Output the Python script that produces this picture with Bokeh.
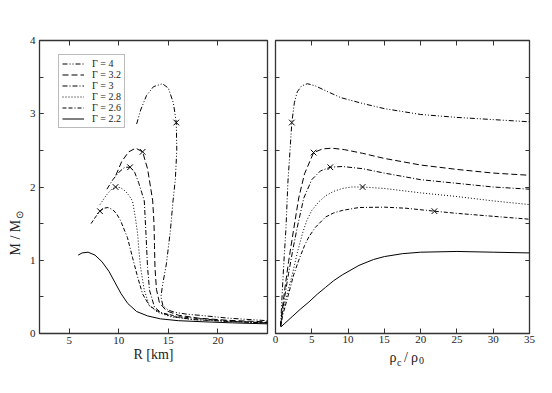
from math import pi
from bokeh.plotting import figure
from bokeh.models import (Range1d, LinearAxis, FixedTicker, SingleIntervalTicker,
                          Legend, LegendItem)
from bokeh.core.properties import value
from bokeh.layouts import row, column
from bokeh.embed import file_html
from bokeh.resources import INLINE

# ---------------- data ----------------
gamma_labels = ["Γ = 4", "Γ = 3.2", "Γ = 3", "Γ = 2.8", "Γ = 2.6", "Γ = 2.2"]

# Left panel: mass-radius curves  (R [km], M/Msun)
R_g4 = [11.8, 12.2, 12.8, 13.5, 14.4, 15.0, 15.5, 15.8, 15.85, 15.7, 15.47, 15.2, 14.8, 14.4, 14.25, 14.45, 15.0, 15.6, 16.8, 18.4, 21.0, 25.5]
M_g4 = [2.86, 3.05, 3.25, 3.37, 3.41, 3.35, 3.15, 2.88, 2.50, 2.10, 1.81, 1.40, 0.95, 0.65, 0.50, 0.38, 0.32, 0.29, 0.265, 0.245, 0.21, 0.17]
R_g32 = [9.7, 10.3, 11.0, 11.7, 12.4, 12.9, 13.2, 13.42, 13.55, 13.6, 13.65, 13.8, 14.1, 14.8, 16.0, 18.0, 21.0, 25.5]
M_g32 = [2.16, 2.35, 2.48, 2.53, 2.48, 2.25, 2.00, 1.81, 1.50, 1.20, 0.90, 0.60, 0.42, 0.31, 0.25, 0.21, 0.18, 0.155]
R_g3 = [8.8, 9.4, 10.0, 10.6, 11.14, 11.6, 12.0, 12.3, 12.57, 12.74, 12.9, 13.1, 13.6, 14.3, 15.5, 17.5, 21.0, 25.5]
M_g3 = [1.97, 2.10, 2.20, 2.27, 2.27, 2.20, 2.06, 1.93, 1.81, 1.36, 0.90, 0.59, 0.36, 0.28, 0.23, 0.19, 0.165, 0.145]
R_g28 = [8.1, 8.7, 9.2, 9.67, 10.2, 10.7, 11.1, 11.38, 11.65, 11.9, 12.05, 12.2, 12.57, 13.08, 13.9, 15.2, 17.5, 21.0, 25.5]
M_g28 = [1.76, 1.88, 1.96, 2.00, 1.99, 1.94, 1.87, 1.81, 1.60, 1.36, 1.10, 0.90, 0.59, 0.38, 0.29, 0.23, 0.19, 0.165, 0.14]
R_g26 = [7.2, 7.7, 8.1, 8.5, 8.9, 9.4, 9.8, 10.18, 10.87, 11.38, 11.9, 12.4, 13.08, 14.1, 16.0, 18.4, 21.5, 25.5]
M_g26 = [1.50, 1.60, 1.67, 1.71, 1.72, 1.69, 1.63, 1.54, 1.31, 1.04, 0.77, 0.54, 0.38, 0.29, 0.23, 0.20, 0.165, 0.14]
R_g22 = [5.9, 6.3, 6.9, 7.6, 8.3, 9.0, 9.6, 10.2, 10.9, 11.8, 12.9, 14.2, 16.0, 18.5, 21.5, 25.5]
M_g22 = [1.07, 1.10, 1.11, 1.07, 0.98, 0.85, 0.70, 0.55, 0.41, 0.30, 0.24, 0.20, 0.175, 0.16, 0.145, 0.13]

# Right panel: mass vs central density (rho_c/rho_0, M/Msun)
rho_g4 = [0.7, 0.8, 1.0, 1.2, 1.45, 1.7, 2.0, 2.25, 2.6, 3.0, 3.6, 4.4, 5.5, 7.0, 9.0, 12.0, 15.0, 20.0, 25.0, 30.0, 35.0]
Mr_g4 = [0.10, 0.30, 0.70, 1.05, 1.45, 2.05, 2.50, 2.88, 3.15, 3.30, 3.38, 3.41, 3.38, 3.31, 3.22, 3.14, 3.07, 2.99, 2.95, 2.92, 2.89]
rho_g32 = [0.7, 0.9, 1.3, 1.8, 2.5, 3.2, 4.0, 5.25, 6.5, 7.8, 9.5, 12.0, 15.0, 20.0, 25.0, 30.0, 35.0]
Mr_g32 = [0.10, 0.30, 0.62, 0.98, 1.42, 1.85, 2.18, 2.47, 2.52, 2.53, 2.51, 2.46, 2.39, 2.30, 2.24, 2.19, 2.16]
rho_g3 = [0.7, 0.9, 1.3, 1.8, 2.4, 3.0, 3.9, 5.0, 6.2, 7.55, 9.2, 12.0, 15.0, 20.0, 25.0, 30.0, 35.0]
Mr_g3 = [0.10, 0.26, 0.52, 0.82, 1.15, 1.45, 1.85, 2.10, 2.22, 2.27, 2.28, 2.25, 2.19, 2.10, 2.05, 2.00, 1.97]
rho_g28 = [0.7, 1.0, 1.5, 2.3, 3.0, 3.7, 4.3, 5.0, 6.0, 6.9, 8.0, 9.2, 10.5, 12.0, 15.0, 20.0, 25.0, 30.0, 35.0]
Mr_g28 = [0.10, 0.30, 0.50, 0.80, 1.10, 1.36, 1.54, 1.68, 1.80, 1.88, 1.94, 1.98, 2.00, 2.00, 1.98, 1.92, 1.87, 1.81, 1.76]
rho_g26 = [0.7, 1.0, 1.83, 2.5, 3.2, 4.0, 4.6, 5.5, 6.9, 8.0, 9.2, 11.5, 15.0, 18.0, 21.9, 25.0, 30.0, 35.0]
Mr_g26 = [0.10, 0.25, 0.55, 0.80, 1.00, 1.20, 1.32, 1.45, 1.59, 1.645, 1.68, 1.72, 1.725, 1.71, 1.67, 1.64, 1.60, 1.56]
rho_g22 = [0.75, 1.3, 2.3, 3.4, 4.6, 5.8, 6.9, 8.0, 9.2, 11.5, 13.5, 15.0, 17.5, 20.0, 25.0, 30.0, 35.0]
Mr_g22 = [0.09, 0.14, 0.23, 0.33, 0.43, 0.54, 0.63, 0.72, 0.80, 0.93, 1.01, 1.05, 1.09, 1.11, 1.12, 1.11, 1.10]

# maximum-mass markers (x)
mark_R = [15.8, 12.4, 11.14, 9.67, 8.1]
mark_M = [2.88, 2.48, 2.27, 2.00, 1.67]
mark_rho = [2.25, 5.25, 7.55, 12.0, 21.9]
mark_Mr = [2.88, 2.47, 2.27, 2.00, 1.67]

left_x_ticks = [5, 10, 15, 20]

# ---------------- styling ----------------
FONT = "Liberation Serif"
TXT = "#222222"
dash_styles = ["5 2 1 2 1 2", "6 3", "5 2 1 2", "1 2", "4 2 4 2 1 2", "solid"]
left_series = [(R_g4, M_g4), (R_g32, M_g32), (R_g3, M_g3), (R_g28, M_g28), (R_g26, M_g26), (R_g22, M_g22)]
right_series = [(rho_g4, Mr_g4), (rho_g32, Mr_g32), (rho_g3, Mr_g3), (rho_g28, Mr_g28), (rho_g26, Mr_g26), (rho_g22, Mr_g22)]

FRAME_H = 293
TOP = 40
TOTAL_H = 378


def make_fig(xr, fw, mleft, mright, mbottom):
    p = figure(frame_width=fw, frame_height=FRAME_H, x_range=xr, y_range=Range1d(0, 4),
               output_backend="svg", toolbar_location=None, x_axis_location=None, y_axis_location=None,
               min_border_left=mleft, min_border_right=mright, min_border_top=TOP, min_border_bottom=mbottom)
    p.xgrid.visible = False
    p.ygrid.visible = False
    p.outline_line_color = "#333333"
    p.outline_line_width = 1.3
    p.background_fill_color = "white"
    p.border_fill_color = "white"
    return p


def blank_fig(w, h):
    p = figure(frame_width=w, frame_height=h, x_range=Range1d(0, w), y_range=Range1d(0, h),
               output_backend="svg", toolbar_location=None, x_axis_location=None, y_axis_location=None,
               min_border=0)
    p.xgrid.visible = False
    p.ygrid.visible = False
    p.outline_line_color = None
    p.border_fill_color = "white"
    p.background_fill_color = "white"
    return p


def add_axis(p, side, ticker, show_labels, tick_len, standoff=4):
    ax = LinearAxis(ticker=ticker)
    ax.axis_line_color = None
    ax.major_tick_in = tick_len
    ax.major_tick_out = 0
    ax.minor_tick_in = tick_len
    ax.minor_tick_out = 0
    ax.major_tick_line_color = "#333333"
    ax.minor_tick_line_color = "#333333"
    ax.major_label_text_font = FONT
    ax.axis_label_text_font = FONT
    ax.axis_label_text_font_style = "normal"
    ax.axis_label_text_color = TXT
    if show_labels:
        ax.major_label_text_font_size = "11px"
        ax.major_label_text_color = TXT
        ax.major_label_standoff = standoff
    else:
        ax.major_label_text_font_size = "1px"
        ax.major_label_text_color = None
        ax.major_label_standoff = 0
    p.add_layout(ax, side)
    return ax


# ---------------- y label strip ----------------
ylab = blank_fig(24, TOTAL_H)
ylab.text(x=[15], y=[163], text=["M / M"], angle=pi / 2, text_align="left", text_baseline="middle",
          text_font=value(FONT), text_font_size="14px", text_color=TXT)
ylab.text(x=[18.5], y=[200], text=["⊙"], angle=pi / 2, text_align="left", text_baseline="middle",
          text_font=value(FONT), text_font_size="10px", text_color=TXT)

# ---------------- left panel ----------------
p1 = make_fig(Range1d(2, 25), 228, 15, 4, TOTAL_H - TOP - FRAME_H)
bx = add_axis(p1, "below", FixedTicker(ticks=left_x_ticks), True, 5, standoff=3)
bx.axis_label = "R [km]"
bx.axis_label_text_font_size = "14px"
bx.axis_label_standoff = 0
add_axis(p1, "above", FixedTicker(ticks=left_x_ticks), False, 5)
add_axis(p1, "left", SingleIntervalTicker(interval=1, num_minor_ticks=2), True, 4)
add_axis(p1, "right", SingleIntervalTicker(interval=1, num_minor_ticks=2), False, 4)

items = []
for lab, (xs, ys), dsh in zip(gamma_labels, left_series, dash_styles):
    r = p1.line(xs, ys, line_color="black", line_width=1, line_dash=dsh)
    items.append(LegendItem(label=lab, renderers=[r]))
p1.scatter(mark_R, mark_M, marker="x", size=8, line_color="black", line_width=1)

leg = Legend(items=items, location=(19, 205))
leg.label_text_font = FONT
leg.label_text_font_size = "10px"
leg.label_text_color = TXT
leg.glyph_width = 22
leg.glyph_height = 11
leg.label_height = 11
leg.spacing = 0
leg.padding = 3
leg.margin = 0
leg.label_standoff = 8
leg.border_line_color = "#777777"
leg.border_line_width = 1.5
leg.background_fill_color = "white"
leg.background_fill_alpha = 1.0
p1.add_layout(leg, "center")

# ---------------- right panel ----------------
P2_BOTTOM = 16
p2 = make_fig(Range1d(0, 35), 254, 4, 12, P2_BOTTOM)
add_axis(p2, "below", SingleIntervalTicker(interval=5, num_minor_ticks=0), True, 5, standoff=2)
add_axis(p2, "above", SingleIntervalTicker(interval=5, num_minor_ticks=0), False, 5)
add_axis(p2, "left", SingleIntervalTicker(interval=1, num_minor_ticks=2), False, 4)
add_axis(p2, "right", SingleIntervalTicker(interval=1, num_minor_ticks=2), False, 4)

for (xs, ys), dsh in zip(right_series, dash_styles):
    p2.line(xs, ys, line_color="black", line_width=1, line_dash=dsh)
p2.scatter(mark_rho, mark_Mr, marker="x", size=8, line_color="black", line_width=1)

# x label strip under right panel: "ρc / ρ0"
RH = TOTAL_H - TOP - FRAME_H - P2_BOTTOM
rlab = blank_fig(270, RH)
rlab.text(x=[114, 128.5, 135.5], y=[RH - 0.5] * 3, text=["ρ", "/", "ρ"], text_align="left",
          text_baseline="top", text_font=value(FONT), text_font_size="14px", text_color=TXT)
rlab.text(x=[121.5, 143.5], y=[RH - 7.0] * 2, text=["c", "0"], text_align="left",
          text_baseline="top", text_font=value(FONT), text_font_size="10px", text_color=TXT)

layout = row(ylab, p1, column(p2, rlab))
open("out.html", "w").write(file_html(layout, INLINE))
